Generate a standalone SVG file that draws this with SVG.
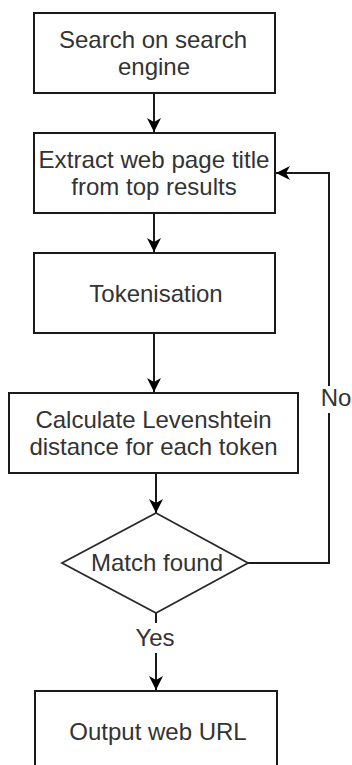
<svg xmlns="http://www.w3.org/2000/svg" width="352" height="765" viewBox="0 0 352 765">
<style>
.box{fill:#fff;stroke:#1a1a1a;stroke-width:2}
.dia{fill:#fff;stroke:#2a2a2a;stroke-width:1.8}
.t{font-family:"Liberation Sans",Arial,sans-serif;font-size:24px;fill:#333;text-anchor:middle}
.edge{fill:none;stroke:#1a1a1a;stroke-width:2}
</style>
<defs>
<marker id="arr" viewBox="0 0 15 15" refX="14" refY="7.5" markerWidth="15" markerHeight="15" markerUnits="userSpaceOnUse" orient="auto">
<path d="M14,7.5 L0,0.5 L4,7.5 L0,14.5 Z" fill="#000"/>
</marker>
</defs>
<rect width="352" height="765" fill="#fff"/>
<g id="connectors">
<line class="edge" x1="154" y1="93" x2="154" y2="132" marker-end="url(#arr)"/>
<line class="edge" x1="154" y1="213" x2="154" y2="252" marker-end="url(#arr)"/>
<line class="edge" x1="154" y1="333" x2="154" y2="392" marker-end="url(#arr)"/>
<line class="edge" x1="156" y1="473" x2="156" y2="513" marker-end="url(#arr)"/>
<path class="edge" d="M156,613 L156,623 M156,653 L156,690" marker-end="url(#arr)"/>
<path class="edge" d="M248,563 L329,563 L329,413 M329,386 L329,173 L276,173" marker-end="url(#arr)"/>
<text class="t" x="336" y="406">No</text>
<text class="t" x="155" y="646">Yes</text>
</g>
<g id="n1">
<rect class="box" x="34" y="13" width="241" height="80"/>
<text class="t" x="153" y="48">Search on search</text>
<text class="t" x="154" y="75">engine</text>
</g>
<g id="n2">
<rect class="box" x="34" y="133" width="241" height="80"/>
<text class="t" x="154" y="168" textLength="231" lengthAdjust="spacingAndGlyphs">Extract web page title</text>
<text class="t" x="154" y="195">from top results</text>
</g>
<g id="n3">
<rect class="box" x="34" y="253" width="241" height="80"/>
<text class="t" x="156" y="302">Tokenisation</text>
</g>
<g id="n4">
<rect class="box" x="9" y="393" width="289" height="80"/>
<text class="t" x="153.5" y="428">Calculate Levenshtein</text>
<text class="t" x="153.5" y="455">distance for each token</text>
</g>
<g id="n5">
<path class="dia" d="M156,513 L248,563 L156,613 L62,563 Z"/>
<text class="t" x="157" y="571">Match found</text>
</g>
<g id="n6">
<rect class="box" x="35" y="691" width="242" height="80"/>
<text class="t" x="158" y="740">Output web URL</text>
</g>
</svg>
